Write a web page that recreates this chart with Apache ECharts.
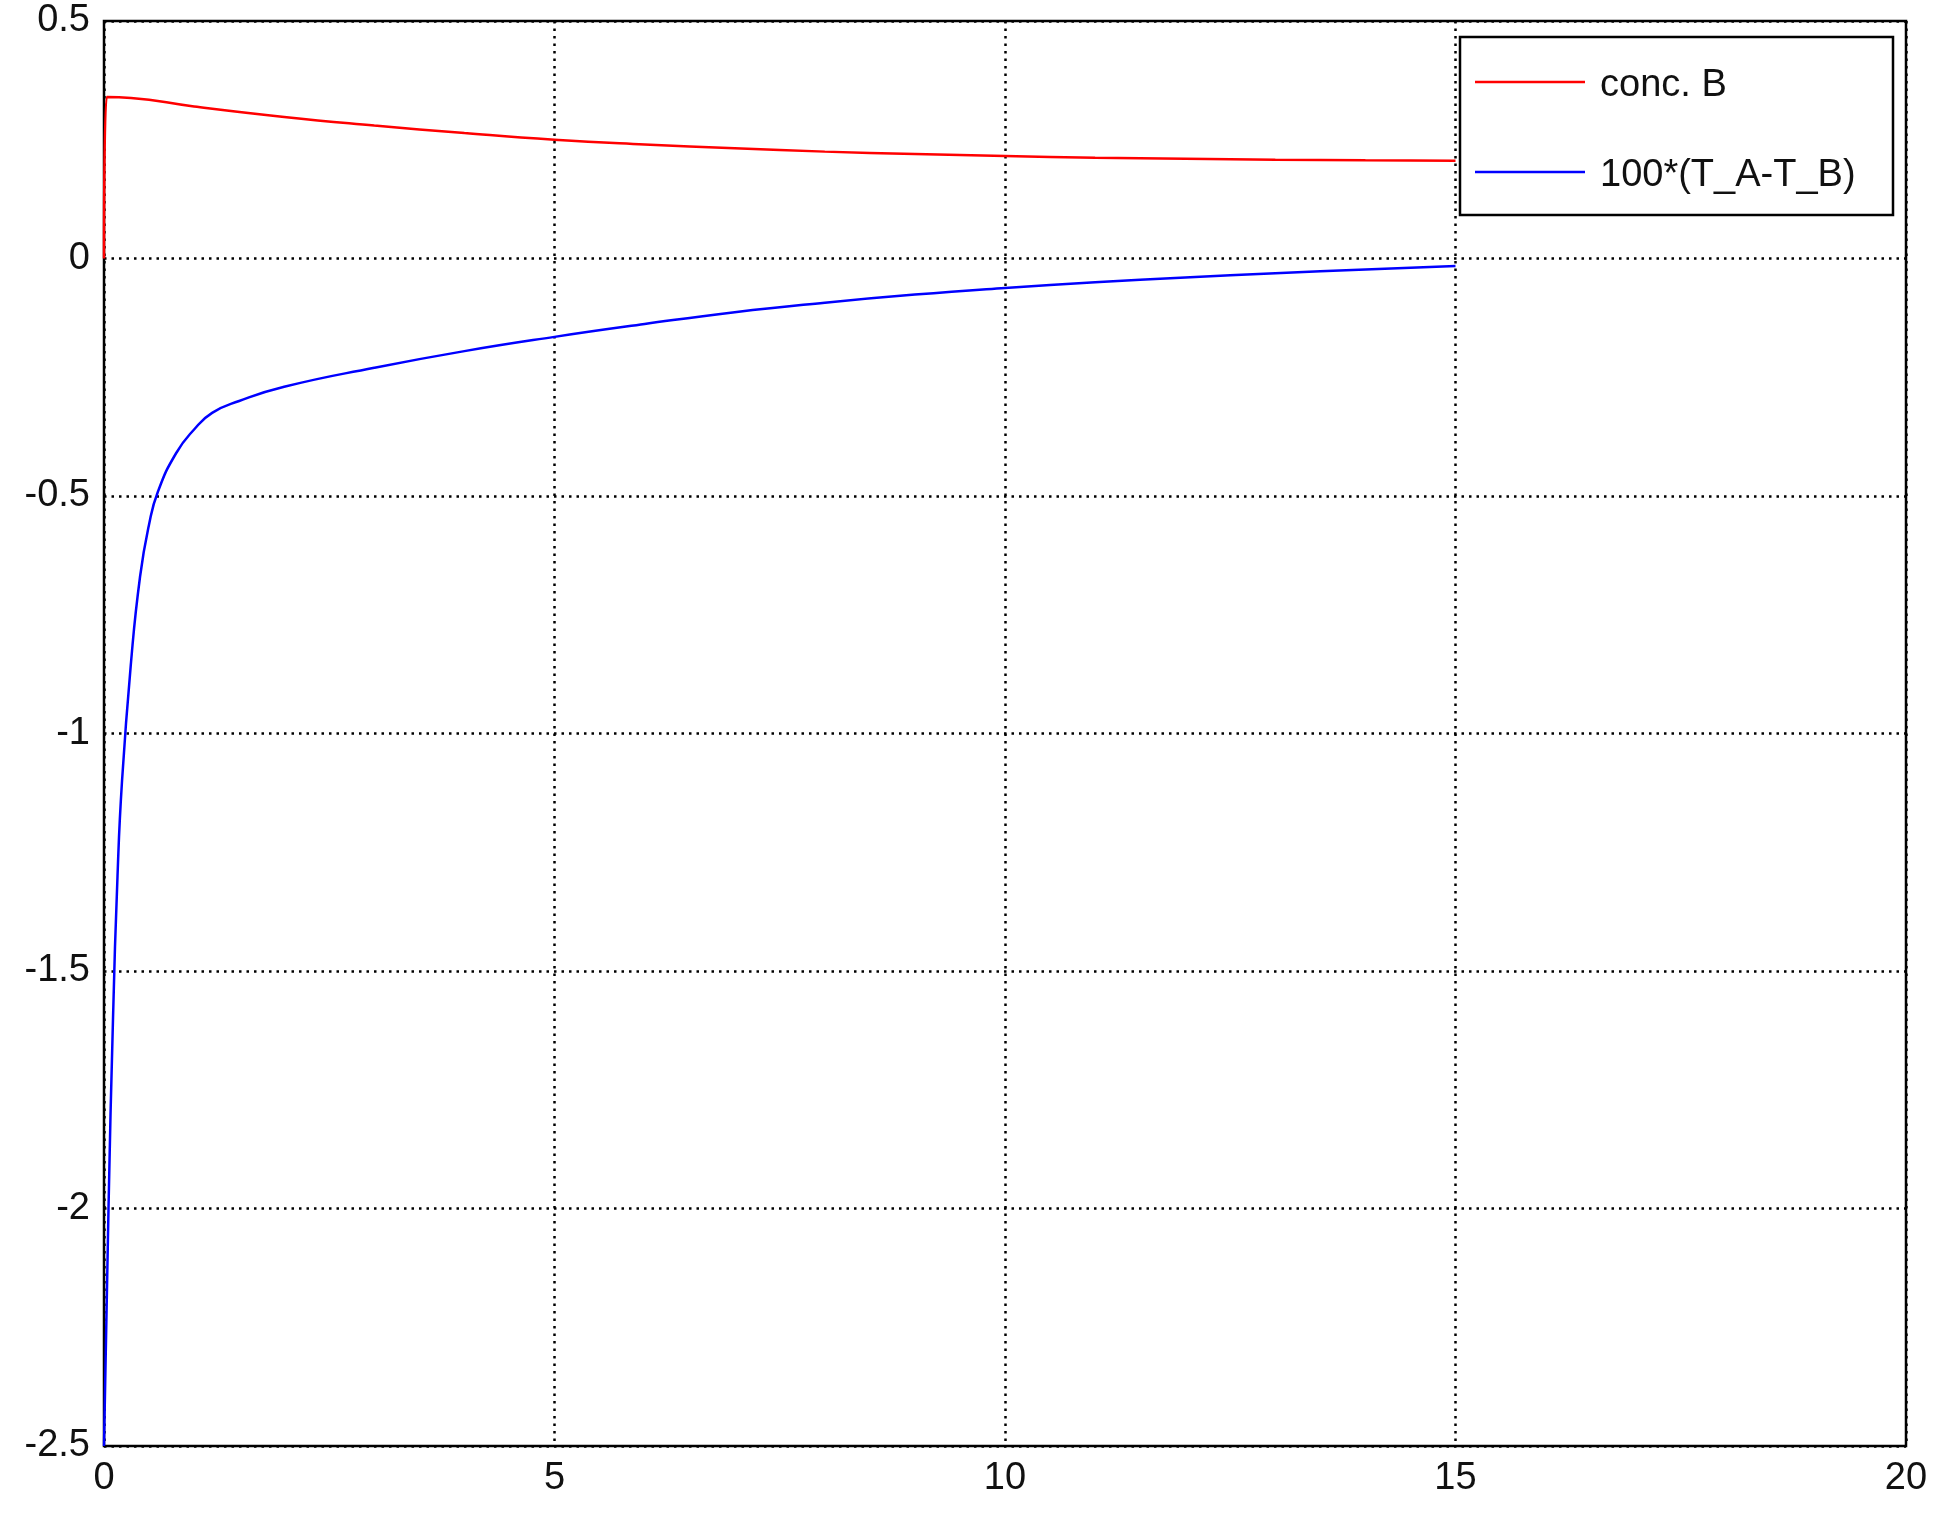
<!DOCTYPE html>
<html><head><meta charset="utf-8">
<script src="https://cdn.jsdelivr.net/npm/echarts@6/dist/echarts.min.js"></script>
<style>html,body{margin:0;padding:0;background:#fff}#c{width:1939px;height:1525px}</style>
</head><body><div id="c"></div>
<script>
const concB = [[0,0],[0.03,0.34],[0.3,0.338],[1,0.32],[2,0.298],[3,0.28],[4,0.264],[5,0.25],[6,0.24],[7,0.232],[8,0.225],[9,0.22],[10,0.216],[11,0.212],[12,0.21],[13,0.208],[14,0.207],[15,0.206]];
const diffT = [[0,-2.5],[0.05,-2.0],[0.1,-1.6],[0.15,-1.3],[0.2,-1.1],[0.3,-0.85],[0.4,-0.67],[0.5,-0.56],[0.6,-0.49],[0.8,-0.41],[1,-0.36],[1.2,-0.325],[1.5,-0.3],[2,-0.27],[3,-0.23],[4,-0.195],[5,-0.165],[6,-0.138],[7,-0.113],[8,-0.093],[9,-0.076],[10,-0.062],[11,-0.05],[12,-0.04],[13,-0.031],[14,-0.023],[15,-0.016]];
const font = 'Liberation Sans';
const grid = {show:true, lineStyle:{color:'#000', type:[2.5,5], width:2.5}};
const chart = echarts.init(document.getElementById('c'));
chart.setOption({
  animation:false,
  grid:{left:104,right:33,top:21,bottom:79,show:true,borderColor:'#000',borderWidth:2.5},
  legend:{show:false},
  xAxis:{type:'value',min:0,max:20,interval:5,splitLine:grid,
    axisLine:{show:false},axisTick:{show:false},
    axisLabel:{fontFamily:font,fontSize:38,color:'#111',margin:14}},
  yAxis:{type:'value',min:-2.5,max:0.5,interval:0.5,splitLine:grid,
    axisLine:{show:false},axisTick:{show:false},
    axisLabel:{fontFamily:font,fontSize:38,color:'#111',margin:14,formatter:v=>String(+v.toFixed(1))}},
  series:[
    {name:'conc. B',type:'line',data:concB,showSymbol:false,smooth:true,lineStyle:{color:'#ff0000',width:2.5}},
    {name:'100*(T_A-T_B)',type:'line',data:diffT,showSymbol:false,smooth:true,lineStyle:{color:'#0000ff',width:2.5}}
  ],
  graphic:[
    {type:'rect',shape:{x:1460,y:37,width:433,height:178},style:{fill:'#fff',stroke:'#000',lineWidth:2.5}},
    {type:'line',shape:{x1:1475,y1:82,x2:1585,y2:82},style:{stroke:'#ff0000',lineWidth:2.5}},
    {type:'text',x:1600,y:86,style:{text:'conc. B',font:'38px "Liberation Sans"',fill:'#111',verticalAlign:'middle'}},
    {type:'line',shape:{x1:1475,y1:172,x2:1585,y2:172},style:{stroke:'#0000ff',lineWidth:2.5}},
    {type:'text',x:1600,y:176,style:{text:'100*(T_A-T_B)',font:'38px "Liberation Sans"',fill:'#111',verticalAlign:'middle'}}
  ]
});
</script></body></html>
